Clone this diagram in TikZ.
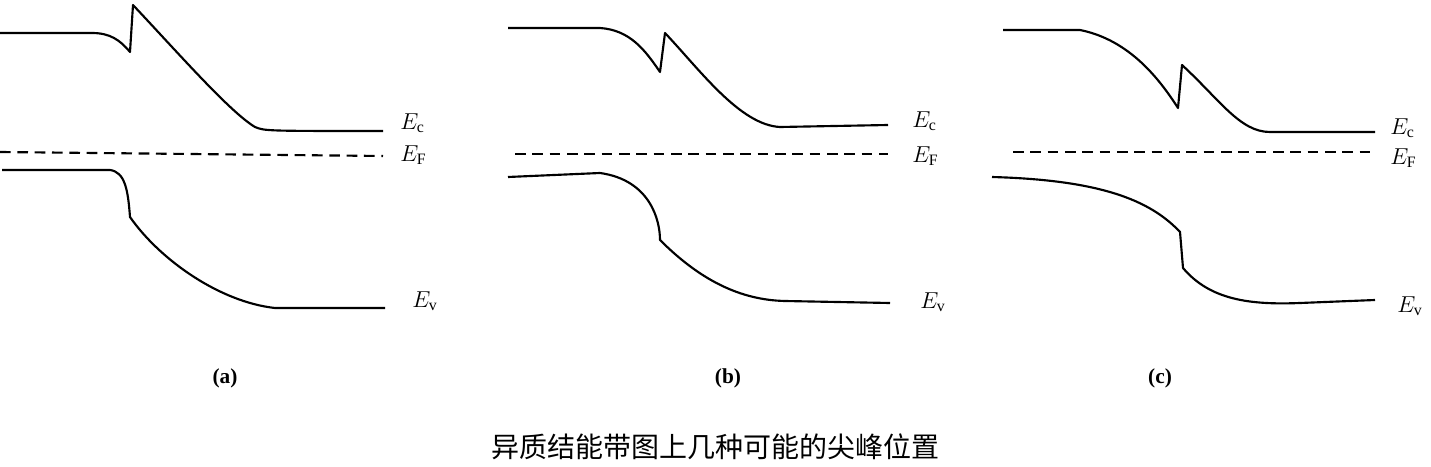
\documentclass[tikz,border=0pt]{standalone}
\usepackage{fontspec}
\setmainfont{Liberation Serif}
\newfontfamily\cjk{Noto Sans CJK SC}
\begin{document}
\begin{tikzpicture}[x=0.75pt,y=-0.75pt,band/.style={line width=1.6pt,line join=round},
 lab/.style={font=\fontsize{17}{17}\selectfont,anchor=west,inner sep=0pt},
 panlab/.style={font=\bfseries\fontsize{16}{16}\selectfont}]
\useasboundingbox (0,0) rectangle (1431,467);
% (a)
\draw[band] (0,33) -- (92,33) .. controls (110,33) and (120,40) .. (130,52) -- (133,5) .. controls (180,55) and (230,112) .. (255,127) .. controls (265,131) .. (383,131);
\draw[band,dash pattern=on 8pt off 5pt] (0,152) -- (383,156);
\draw[band] (2,170) -- (110,170) .. controls (125,172) and (128,190) .. (130,217) .. controls (160,260) and (220,302) .. (275,308) -- (385,308);
\node[lab] (ca) at (400,123) {$E_{\mathrm{c}}$};
\node[lab] (fa) at (400,155) {$E_{\mathrm{F}}$};
\node[lab] (va) at (412,301) {$E_{\mathrm{v}}$};
\node[panlab] (la) at (225,378) {(a)};
% (b)
\draw[band] (508,28) -- (600,28) .. controls (630,30) and (645,50) .. (660,72) -- (665,33) .. controls (700,70) and (740,125) .. (780,127) -- (888,125);
\draw[band,dash pattern=on 8pt off 5pt] (515,154) -- (888,154);
\draw[band] (508,177) -- (600,173) .. controls (650,180) and (660,220) .. (660,240) .. controls (700,280) and (740,300) .. (785,301) -- (890,303);
\node[lab] (cb) at (912,121) {$E_{\mathrm{c}}$};
\node[lab] (fb) at (912,156) {$E_{\mathrm{F}}$};
\node[lab] (vb) at (920,302) {$E_{\mathrm{v}}$};
\node[panlab] (lb) at (728,378) {(b)};
% (c)
\draw[band] (1003,30) -- (1080,30) .. controls (1130,40) and (1160,80) .. (1178,108) -- (1182,65) .. controls (1220,100) and (1240,132) .. (1270,132) -- (1375,132);
\draw[band,dash pattern=on 8pt off 5pt] (1013,152) -- (1375,152);
\draw[band] (992,177) .. controls (1100,180) and (1150,200) .. (1180,232) -- (1183,268) .. controls (1210,300) and (1250,305) .. (1300,303) -- (1375,300);
\node[lab] (cc) at (1390,128) {$E_{\mathrm{c}}$};
\node[lab] (fc) at (1390,158) {$E_{\mathrm{F}}$};
\node[lab] (vc) at (1397,306) {$E_{\mathrm{v}}$};
\node[panlab] (lc) at (1160,378) {(c)};
\node[font=\cjk\fontsize{21}{21}\selectfont] (t) at (715,447) {异质结能带图上几种可能的尖峰位置};
\end{tikzpicture}
\end{document}
